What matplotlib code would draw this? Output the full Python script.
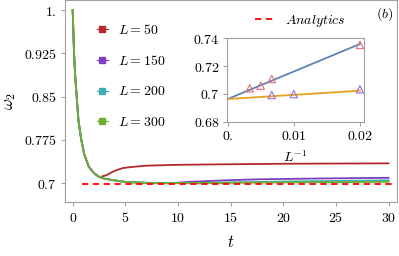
import numpy as np
import matplotlib
matplotlib.use("Agg")
import matplotlib.pyplot as plt
from matplotlib.lines import Line2D

plt.rcParams["mathtext.fontset"] = "cm"
plt.rcParams["font.family"] = ["DejaVu Serif"]

# main panel data
t_common = [0, 0.13, 0.25, 0.38, 0.55, 0.82, 1.1, 1.52, 2.0, 2.47]
w_common = [1.0, 0.925, 0.882, 0.85, 0.808, 0.775, 0.750, 0.729, 0.718, 0.7115]

t_L50 = [2.6, 3.2, 3.7, 4.2, 4.8, 5.5, 7, 10, 15, 20, 25, 30]
w_L50 = [0.711, 0.714, 0.719, 0.723, 0.7265, 0.728, 0.7305, 0.732, 0.733, 0.7338, 0.7342, 0.7345]

t_tail = [3, 3.7, 4.7, 5.6, 7, 9, 10, 11, 12, 13, 15, 18, 20, 22, 25, 26, 30]
w_L150 = [0.708, 0.7058, 0.703, 0.7017, 0.7008, 0.7005, 0.701, 0.7025, 0.7032, 0.704, 0.7055, 0.707, 0.7075, 0.708, 0.7086, 0.7088, 0.7095]
w_L200 = [0.708, 0.7058, 0.703, 0.7017, 0.7008, 0.7003, 0.7003, 0.7004, 0.7005, 0.7008, 0.7015, 0.7024, 0.703, 0.7035, 0.704, 0.7043, 0.7052]
w_L300 = [0.708, 0.7058, 0.703, 0.7017, 0.7008, 0.7003, 0.7003, 0.7003, 0.7003, 0.7004, 0.7008, 0.7012, 0.7015, 0.7017, 0.702, 0.7021, 0.7025]

analytics = 0.699

L_labels = ["$L=50$", "$L=150$", "$L=200$", "$L=300$"]
colors = ["#B5282E", "#7B3FBF", "#3DAFB4", "#6DAE32"]

# inset data
invL_red = [1 / 300, 1 / 200, 1 / 150, 1 / 50]
w_red = [0.7040, 0.7059, 0.7107, 0.7352]
invL_purple = [1 / 150, 1 / 100, 1 / 50]
w_purple = [0.6992, 0.6999, 0.7033]
fit_x = [0, 0.02]
fit_blue = [0.6963, 0.7359]
fit_orange = [0.6963, 0.7023]

fig = plt.figure(figsize=(3.99, 2.56), dpi=100)
ax = fig.add_axes([0.1637, 0.2098, 0.8313, 0.7883])

tails = [w_L50, w_L150, w_L200, w_L300]
for i, c in enumerate(colors):
    if i == 0:
        tt = t_common + t_L50
        ww = w_common + w_L50
    else:
        tt = t_common + t_tail
        ww = w_common + tails[i]
    ax.plot(tt, ww, color=c, lw=1.3)

ax.hlines(analytics, 0.9, 30.75, colors="#FF0000", linestyles=(0, (3.5, 2.5)), lw=1.3)

ax.set_xlim(-0.7, 30.8)
ax.set_ylim(0.6671, 1.0165)
ax.set_xticks([0, 5, 10, 15, 20, 25, 30])
ax.set_xticklabels(["$0$", "$5$", "$10$", "$15$", "$20$", "$25$", "$30$"], fontsize=10)
ax.set_yticks([0.7, 0.775, 0.85, 0.925, 1.0])
ax.set_yticklabels(["$0.7$", "$0.775$", "$0.85$", "$0.925$", "$1.$"], fontsize=10)
ax.set_xlabel("$t$", fontsize=12, labelpad=7)
ax.set_ylabel(r"$\omega_2$", fontsize=12, labelpad=4)
for s in ax.spines.values():
    s.set_color("#A0A0A0")
    s.set_linewidth(0.8)
ax.tick_params(direction="out", length=3, color="#A0A0A0", width=0.8, pad=3)

handles = [Line2D([], [], color=c, marker="s", markersize=4.5, lw=0.8) for c in colors]
leg1 = ax.legend(handles, L_labels, loc="upper left", bbox_to_anchor=(0.095, 0.888),
                 frameon=False, borderpad=0, borderaxespad=0, handlelength=0.8,
                 handletextpad=0.75, labelspacing=1.2, fontsize=10)
ax.add_artist(leg1)
h2 = [Line2D([], [], color="#FF0000", ls=(0, (3.5, 2.5)), lw=1.3)]
ax.legend(h2, ["$Analytics$"], loc="upper left", bbox_to_anchor=(0.572, 0.938),
          frameon=False, borderpad=0, borderaxespad=0, handlelength=1.45,
          handletextpad=0.7, fontsize=10)
ax.text(0.99, 0.975, "$(b)$", transform=ax.transAxes, ha="right", va="top", fontsize=10)

# inset
ins = fig.add_axes([0.568, 0.5246, 0.344, 0.3258])
ins.plot(fit_x, fit_blue, color="#5E81B5", lw=1.3)
ins.plot(fit_x, fit_orange, color="#E8A020", lw=1.3)
ins.scatter(invL_red, w_red, marker="^", s=28, facecolors="none", edgecolors="#E07078", lw=0.8, zorder=3)
ins.scatter(invL_purple, w_purple, marker="^", s=28, facecolors="none", edgecolors="#9A6FD6", lw=0.8, zorder=3)
ins.set_xlim(-0.00015, 0.0206)
ins.set_ylim(0.68, 0.74)
ins.set_xticks([0, 0.01, 0.02])
ins.set_xticklabels(["$0.$", "$0.01$", "$0.02$"], fontsize=10)
ins.set_yticks([0.68, 0.7, 0.72, 0.74])
ins.set_yticklabels(["$0.68$", "$0.7$", "$0.72$", "$0.74$"], fontsize=10)
ins.set_xlabel("$L^{-1}$", fontsize=10, labelpad=5)
for s in ins.spines.values():
    s.set_color("#A0A0A0")
    s.set_linewidth(0.8)
ins.tick_params(direction="out", length=3, color="#A0A0A0", width=0.8, pad=2)
ins.patch.set_alpha(0)

fig.savefig("out.png", dpi=100)
